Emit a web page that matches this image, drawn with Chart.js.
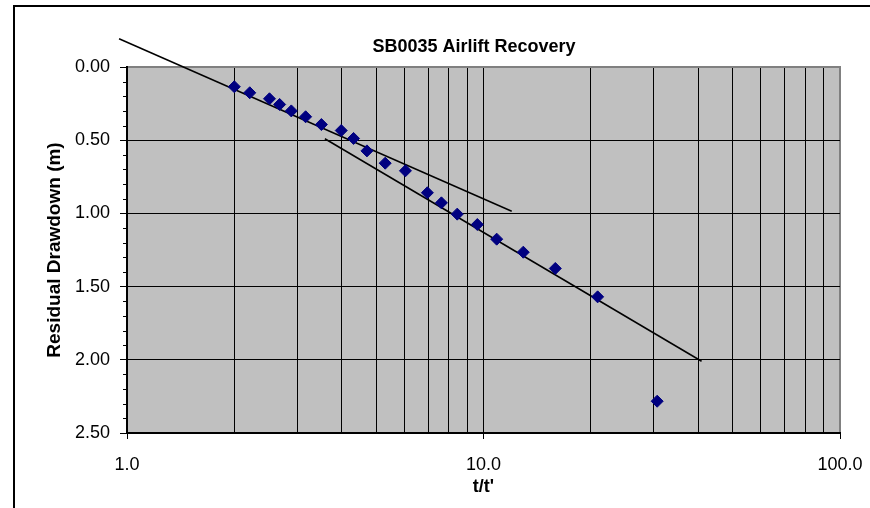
<!DOCTYPE html>
<html>
<head>
<meta charset="utf-8">
<title>SB0035 Airlift Recovery</title>
<script src="https://cdn.jsdelivr.net/npm/chart.js@4.4.1/dist/chart.umd.min.js"></script>
<style>
  html, body { margin: 0; padding: 0; background: #fff; }
  #wrap { position: relative; width: 870px; height: 508px; }
</style>
</head>
<body>
<div id="wrap"><canvas id="recoveryChart"></canvas></div>
<script>
// Airlift recovery test, bore SB0035: residual drawdown against t/t'
const chartTitle = 'SB0035 Airlift Recovery';

const tRatio   = [2.0, 2.21, 2.51, 2.68, 2.89, 3.17, 3.51, 3.99, 4.32, 4.71, 5.30,
                  6.04, 6.96, 7.62, 8.44, 9.61, 10.89, 12.93, 15.9, 20.9, 30.7];
const drawdown = [0.135, 0.176, 0.217, 0.256, 0.300, 0.340, 0.393, 0.434, 0.488, 0.573, 0.657,
                  0.709, 0.859, 0.928, 1.005, 1.076, 1.176, 1.265, 1.376, 1.570, 2.283];

// hand-fitted straight lines (early and late time)
const earlyFitX = [0.95, 12.0];
const earlyFitY = [-0.193, 0.985];
const lateFitX  = [3.59, 40.9];
const lateFitY  = [0.49, 2.01];

// axis ticks
const xTicks = [1, 2, 3, 4, 5, 6, 7, 8, 9, 10, 20, 30, 40, 50, 60, 70, 80, 90, 100];
const yTicks = [0, 0.5, 1.0, 1.5, 2.0, 2.5];
const yMinorStep = 0.1;

const FONT = "'Liberation Sans', Arial, Helvetica, sans-serif";

function pairs(xs, ys){ return xs.map((x, i) => ({ x, y: ys[i] })); }
function isDecade(v){ return Math.abs(Math.log10(v) - Math.round(Math.log10(v))) < 1e-9; }

// grey plot area, outer frame, title and minor y ticks
const framePlugin = {
  id: 'frame',
  beforeDraw(chart){
    const { ctx, chartArea: a } = chart;
    ctx.save();
    ctx.fillStyle = '#fff';
    ctx.fillRect(0, 0, chart.width, chart.height);
    ctx.fillStyle = '#c0c0c0';
    ctx.fillRect(a.left, a.top, a.right - a.left, a.bottom - a.top);
    ctx.strokeStyle = '#808080';
    ctx.lineWidth = 2;
    ctx.strokeRect(a.left, a.top, a.right - a.left, a.bottom - a.top);
    // outer chart border
    ctx.strokeStyle = '#000';
    ctx.lineWidth = 2;
    ctx.strokeRect(14, 6, chart.width + 20, chart.height + 20);
    ctx.restore();
  },
  afterDraw(chart){
    const { ctx, chartArea: a } = chart;
    const y = chart.scales.y;
    ctx.save();
    ctx.strokeStyle = '#000';
    ctx.lineWidth = 1;
    for (let v = yMinorStep; v < y.max; v += yMinorStep){
      const r = Math.round(v * 10) / 10;
      if (Math.abs(r * 2 - Math.round(r * 2)) < 1e-9) continue;
      const py = Math.round(y.getPixelForValue(r)) + 0.5;
      ctx.beginPath();
      ctx.moveTo(a.left - 4, py);
      ctx.lineTo(a.left, py);
      ctx.stroke();
    }
    ctx.fillStyle = '#000';
    ctx.font = 'bold 18px ' + FONT;
    ctx.textAlign = 'center';
    ctx.textBaseline = 'middle';
    ctx.fillText(chartTitle, 474, 47);
    ctx.restore();
  }
};

new Chart(document.getElementById('recoveryChart'), {
  type: 'scatter',
  data: {
    datasets: [
      {
        label: 'Residual drawdown',
        data: pairs(tRatio, drawdown),
        pointStyle: 'rectRot',
        pointRadius: 6,
        borderWidth: 1,
        backgroundColor: '#000080',
        borderColor: '#000080',
        clip: false
      },
      {
        label: 'Early fit',
        data: pairs(earlyFitX, earlyFitY),
        showLine: true,
        pointRadius: 0,
        borderColor: '#000',
        borderWidth: 1.5,
        clip: false
      },
      {
        label: 'Late fit',
        data: pairs(lateFitX, lateFitY),
        showLine: true,
        pointRadius: 0,
        borderColor: '#000',
        borderWidth: 1.5,
        clip: false
      }
    ]
  },
  options: {
    responsive: true,
    maintainAspectRatio: false,
    animation: false,
    layout: { padding: { left: 13, top: 67, right: 30, bottom: 0 } },
    plugins: {
      legend: { display: false },
      title: { display: false },
      tooltip: { enabled: false }
    },
    scales: {
      x: {
        type: 'logarithmic',
        min: 1,
        max: 100,
        afterBuildTicks: s => { s.ticks = xTicks.map(v => ({ value: v })); },
        // fixed axis band; label overflow is covered by the layout padding
        afterFit: s => { s.height = 75; s.paddingLeft = 0; s.paddingRight = 0; },
        ticks: {
          autoSkip: false,
          maxRotation: 0,
          color: '#000',
          font: { family: FONT, size: 18 },
          padding: 15,
          callback: v => isDecade(v) ? v.toFixed(1) : ''
        },
        grid: {
          color: c => (c.tick && c.tick.value === 100) ? '#808080' : '#000',
          lineWidth: 1,
          tickLength: 6,
          tickColor: c => (c.tick && isDecade(c.tick.value)) ? '#000' : 'rgba(0,0,0,0)'
        },
        border: { color: '#000', width: 2 },
        title: {
          display: true,
          text: "t/t'",
          color: '#000',
          font: { family: FONT, size: 18, weight: 'bold' },
          padding: { top: 0, bottom: 10 }
        }
      },
      y: {
        type: 'linear',
        reverse: true,
        min: 0,
        max: 2.5,
        afterBuildTicks: s => { s.ticks = yTicks.map(v => ({ value: v })); },
        afterFit: s => { s.width = 114; s.paddingTop = 0; s.paddingBottom = 0; },
        ticks: {
          color: '#000',
          font: { family: FONT, size: 18 },
          padding: 10,
          callback: v => Number(v).toFixed(2)
        },
        grid: {
          color: c => (c.tick && c.tick.value === 0) ? '#808080' : '#000',
          lineWidth: 1,
          tickLength: 7,
          tickColor: '#000'
        },
        border: { color: '#000', width: 2 },
        title: {
          display: true,
          text: 'Residual Drawdown (m)',
          color: '#000',
          font: { family: FONT, size: 19, weight: 'bold' },
          padding: { top: 30, bottom: 0 }
        }
      }
    }
  },
  plugins: [framePlugin]
});
</script>
</body>
</html>
